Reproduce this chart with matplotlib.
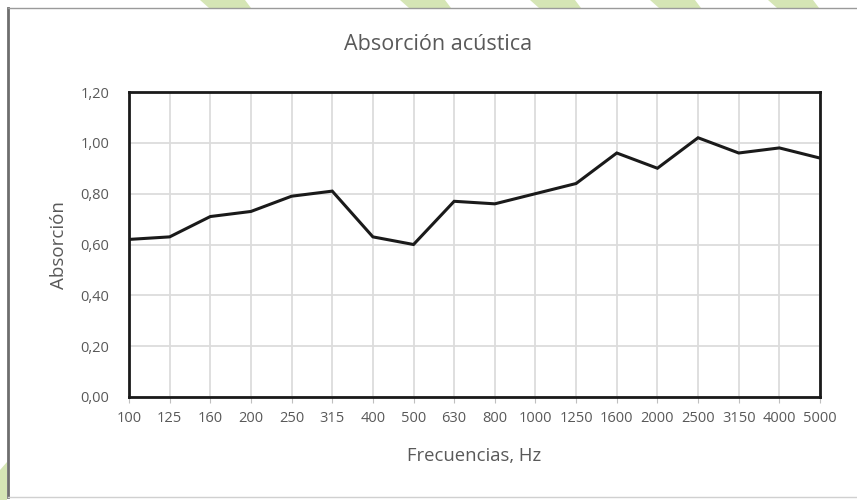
import matplotlib.pyplot as plt
from matplotlib.patches import Polygon
from matplotlib.lines import Line2D

# datos
frecuencias = ['100', '125', '160', '200', '250', '315', '400', '500', '630',
               '800', '1000', '1250', '1600', '2000', '2500', '3150', '4000', '5000']
absorcion = [0.62, 0.63, 0.71, 0.73, 0.79, 0.81, 0.63, 0.60, 0.77,
             0.76, 0.80, 0.84, 0.96, 0.90, 1.02, 0.96, 0.98, 0.94]
marcas_y = [0.0, 0.2, 0.4, 0.6, 0.8, 1.0, 1.2]

plt.rcParams['font.family'] = ['Open Sans', 'DejaVu Sans']

W, H = 857, 500
fig = plt.figure(figsize=(W / 100, H / 100), dpi=100)
ax = fig.add_axes([129 / W, 1 - 397 / H, (820 - 129) / W, (397 - 92) / H])

x = list(range(len(frecuencias)))
ax.plot(x, absorcion, color='#1a1a1a', lw=2.2, solid_joinstyle='miter')

ax.set_xlim(0, len(frecuencias) - 1)
ax.set_ylim(0, 1.2)
ax.set_xticks(x)
ax.set_xticklabels(frecuencias)
ax.set_yticks(marcas_y)
ax.set_yticklabels([f'{v:.2f}'.replace('.', ',') for v in marcas_y])
ax.grid(True, color='#dcdcdc', lw=1.3)
ax.set_axisbelow(True)
for s in ax.spines.values():
    s.set_color('#1a1a1a')
    s.set_linewidth(2)
ax.tick_params(axis='x', length=4, color='#bfbfbf', pad=6, labelsize=10.5, labelcolor='#595959')
ax.tick_params(axis='y', length=0, pad=14, labelsize=10.5, labelcolor='#595959')

fig.text(438 / W, 1 - 45 / H, 'Absorción acústica', ha='center', va='center',
         fontsize=15.5, color='#595959')
fig.text(474 / W, 1 - 456 / H, 'Frecuencias, Hz', ha='center', va='center',
         fontsize=13.3, color='#595959')
fig.text(59 / W, 1 - 245 / H, 'Absorción', ha='center', va='center', rotation=90,
         fontsize=13.5, color='#595959')

# marco y franjas verdes del fondo
verde = '#d5e5b5'
for x0 in [200, 400, 530, 650, 768]:
    pts = [(x0, 0), (x0 + 45, 0), (x0 + 51, 8), (x0 + 9, 8)]
    fig.patches.append(Polygon([(px / W, 1 - py / H) for px, py in pts], closed=True,
                               transform=fig.transFigure, color=verde, lw=0))
pts = [(0, 470), (7, 462), (7, 500), (0, 500)]
fig.patches.append(Polygon([(px / W, 1 - py / H) for px, py in pts], closed=True,
                           transform=fig.transFigure, color=verde, lw=0))
fig.lines.append(Line2D([8 / W, 8 / W], [1 - 8 / H, 1 - 497 / H], transform=fig.transFigure,
                        color='#6e6e6e', lw=2))
fig.lines.append(Line2D([8 / W, 1], [1 - 8 / H, 1 - 8 / H], transform=fig.transFigure,
                        color='#9a9a9a', lw=1))
fig.lines.append(Line2D([8 / W, 1], [1 - 497 / H, 1 - 497 / H], transform=fig.transFigure,
                        color='#d0d0d0', lw=1))

fig.savefig('out.png', dpi=100)
